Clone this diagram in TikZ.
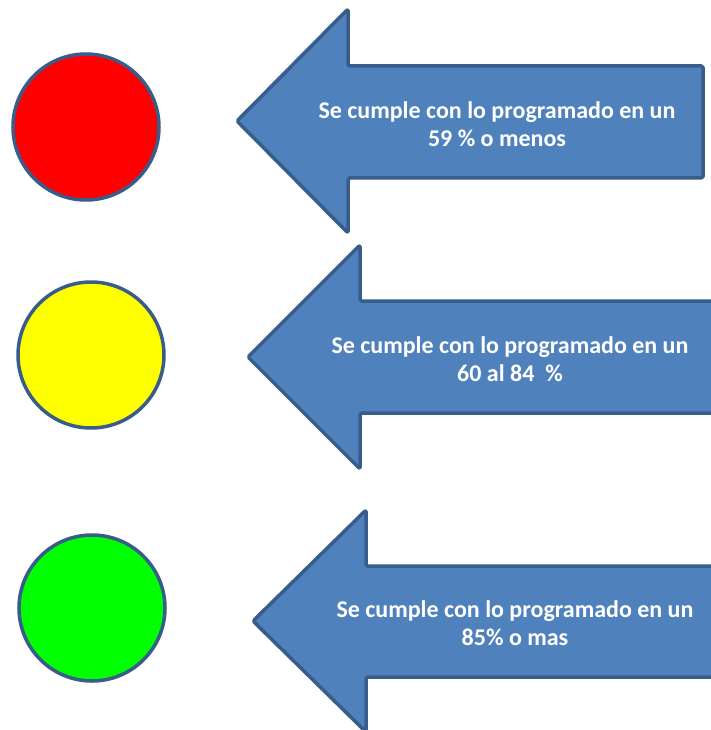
\documentclass[tikz,border=0pt]{standalone}
\usepackage{fontspec}
\setmainfont{Carlito}
\definecolor{arrowblue}{HTML}{4F81BD}
\definecolor{edgeblue}{HTML}{385D8A}
\definecolor{lampred}{HTML}{FF0000}
\definecolor{lampyellow}{HTML}{FFFF00}
\definecolor{lampgreen}{HTML}{00FF00}
\tikzset{
  lamp/.style={circle,draw=edgeblue,line width=3.5pt,minimum size=146pt,inner sep=0pt},
  bigarrow/.style={fill=arrowblue,draw=edgeblue,line width=3.5pt,line join=round,rounded corners=1.5pt},
  arrowtext/.style={text=white,font=\fontsize{24}{28.5}\selectfont\bfseries,align=center}
}
\begin{document}
\begin{tikzpicture}[x=1pt,y=-1pt]
      \useasboundingbox (0,0) rectangle (710,730);
      % traffic lights
      \begin{scope}
        \node[lamp,fill=lampred] (red) at (86,127) {};
        \node[lamp,fill=lampyellow] (yellow) at (91,355) {};
        \node[lamp,fill=lampgreen] (green) at (92,608) {};
      \end{scope}
      % arrows
      \draw[bigarrow] (703,66) -- (348,66) -- (348,9) -- (237,121) -- (348,233) -- (348,178) -- (703,178) -- cycle;
      \draw[bigarrow] (725,301) -- (360,301) -- (360,245) -- (248,357) -- (360,469) -- (360,413) -- (725,413) -- cycle;
      \draw[bigarrow] (725,566) -- (366,566) -- (366,510) -- (253,621) -- (366,732) -- (366,677) -- (725,677) -- cycle;
      % labels
      \begin{scope}[every node/.style={arrowtext}]
        \node (low) at (497,124) {Se cumple con lo programado en un\\59 \% o menos};
        \node (mid) at (510,359) {Se cumple con lo programado en un\\60 al 84~~\%};
        \node (high) at (515,623) {Se cumple con lo programado en un\\85\% o mas};
      \end{scope}
\end{tikzpicture}
\end{document}
